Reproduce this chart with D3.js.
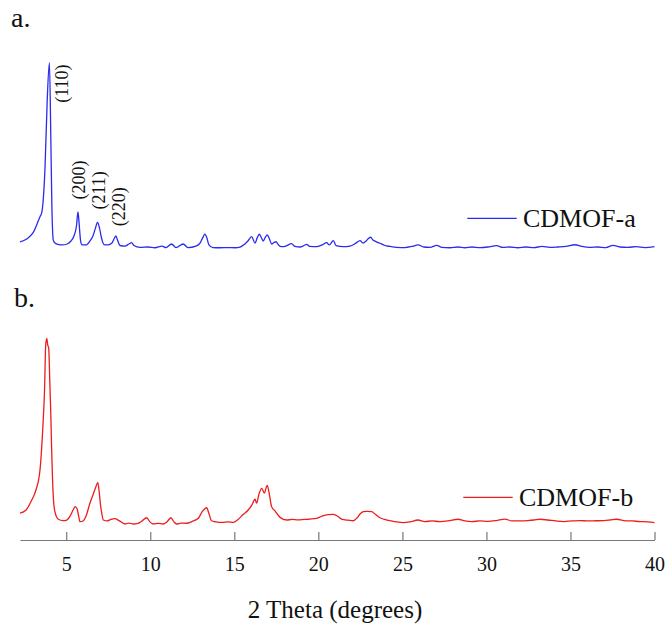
<!DOCTYPE html>
<html>
<head>
<meta charset="utf-8">
<script src="https://cdn.jsdelivr.net/npm/d3@7"></script>
<style>
  html, body { margin: 0; padding: 0; background: #fff; }
  svg { display: block; }
  text { font-family: "Liberation Serif", "Times New Roman", serif; fill: #111; }
</style>
</head>
<body>
<svg id="chart" width="667" height="624"></svg>
<script>
// ---- Data (2 theta in degrees, intensity in arbitrary units, max = 1000) ----
const thetaA = [2.25,2.65,3.02,3.44,3.54,3.74,3.87,4.0,4.08,4.14,4.23,4.33,4.51,4.75,5.05,5.28,5.46,5.61,5.7,5.76,5.85,5.94,6.18,6.41,6.59,6.74,6.86,6.98,7.1,7.25,7.49,7.72,7.87,7.96,8.05,8.2,8.5,8.73,8.89,9.03,9.39,9.86,10.28,10.7,10.93,11.27,11.53,11.96,12.24,12.72,12.96,13.14,13.25,13.37,13.49,13.73,14.15,14.62,15.04,15.34,15.63,15.81,16.03,16.23,16.38,16.49,16.62,16.72,16.85,16.96,17.09,17.22,17.36,17.48,17.63,17.82,18.07,18.41,18.61,18.91,19.15,19.31,19.5,19.9,20.22,20.5,20.65,20.89,21.05,21.48,21.88,22.24,22.48,22.66,22.84,22.98,23.11,23.25,23.43,23.67,23.96,24.26,24.66,25.15,25.57,25.93,26.28,26.64,27.04,27.35,27.83,28.31,28.72,29.14,29.61,30.09,30.61,30.98,31.4,31.87,32.35,32.83,33.3,33.78,34.25,34.73,35.27,35.68,36.16,36.63,37.11,37.53,37.94,38.42,38.9,39.43,40.0];
const intensityA = [43,59,91,178,198,443,801,1000,625,267,53,37,30,27,32,48,75,128,203,150,53,27,27,48,75,117,147,117,64,29,27,37,64,75,53,24,21,32,39,24,14,16,12,21,13,32,13,32,13,21,37,69,85,64,27,13,12,13,12,16,32,48,71,37,69,84,64,48,69,80,59,32,40,44,27,18,21,34,19,16,24,30,19,18,27,39,27,50,24,18,21,37,50,37,48,61,68,53,45,36,24,19,14,13,19,27,16,14,25,14,12,16,12,16,13,16,23,14,16,12,16,13,19,14,16,19,28,19,14,16,13,25,16,14,18,13,18];

const thetaB = [2.25,2.61,2.95,3.2,3.44,3.6,3.71,3.78,3.84,3.9,3.96,4.02,4.08,4.15,4.23,4.33,4.53,4.81,5.03,5.23,5.41,5.53,5.65,5.74,5.82,6.0,6.18,6.41,6.59,6.74,6.88,6.95,7.04,7.1,7.21,7.43,7.66,7.9,8.14,8.5,8.74,8.99,9.27,9.51,9.79,9.98,10.18,10.46,10.77,10.99,11.23,11.41,11.57,11.82,12.17,12.48,12.86,13.08,13.23,13.36,13.46,13.65,13.91,14.27,14.62,14.94,15.22,15.52,15.83,16.05,16.23,16.33,16.47,16.63,16.79,16.89,16.96,17.06,17.22,17.42,17.72,18.12,18.43,18.79,19.15,19.5,19.9,20.22,20.57,20.89,21.17,21.41,21.77,22.08,22.3,22.48,22.68,22.9,23.18,23.37,23.67,24.08,24.56,25.05,25.45,25.93,26.34,26.76,27.23,27.71,28.32,28.72,29.14,29.61,30.09,30.57,31.1,31.52,31.99,32.47,32.83,33.18,33.66,34.13,34.61,35.09,35.56,36.04,36.52,36.99,37.35,37.75,38.18,38.66,39.14,39.61,40.0];
const intensityB = [73,90,143,196,302,514,726,965,1000,965,947,779,604,355,161,80,41,34,37,58,90,108,95,58,28,32,58,126,170,207,235,196,117,80,37,32,40,44,34,16,21,16,19,32,49,27,16,19,16,27,49,27,16,21,20,29,46,80,95,102,80,33,27,24,27,25,40,66,90,117,147,126,175,205,179,207,221,186,108,85,51,37,40,38,40,42,46,58,66,67,56,40,36,33,48,69,81,83,81,69,49,37,29,23,27,37,29,32,29,32,41,32,29,32,30,34,42,32,32,34,37,41,37,32,29,32,34,32,33,34,37,41,34,32,29,27,23];

const xTicks = [5, 10, 15, 20, 25, 30, 35, 40];
const peakLabels = ["(110)", "(200)", "(211)", "(220)"];
const seriesNames = ["CDMOF-a", "CDMOF-b"];
const panelLabels = ["a.", "b."];
const xTitle = "2 Theta (degrees)";

// ---- Layout ----
const svg = d3.select("#chart");
const x = d3.scaleLinear().domain([2.25, 40]).range([20, 654.5]);
const yA = d3.scaleLinear().domain([0, 1000]).range([250, 62.7]);
const yB = d3.scaleLinear().domain([0, 1000]).range([527, 338.3]);

const blue = "#2b2bee";
const red = "#ee1c1c";

function drawSeries(thetas, vals, yScale, color) {
  const pts = thetas.map((t, i) => [t, vals[i]]);
  const line = d3.line().x(d => x(d[0])).y(d => yScale(d[1])).curve(d3.curveMonotoneX);
  svg.append("path").datum(pts)
    .attr("d", line)
    .attr("fill", "none")
    .attr("stroke", color)
    .attr("stroke-width", 1.3)
    .attr("stroke-linejoin", "round");
}
drawSeries(thetaA, intensityA, yA, blue);
drawSeries(thetaB, intensityB, yB, red);

// Panel labels
svg.append("text").attr("x", 11).attr("y", 27).attr("font-size", 28).text(panelLabels[0]);
svg.append("text").attr("x", 14).attr("y", 307).attr("font-size", 28).text(panelLabels[1]);

// Peak (hkl) labels, rotated, centred at given positions
const peakPos = [[62.5, 83.7], [78.8, 180], [98.8, 190.3], [119.2, 206.7]];
peakLabels.forEach((lab, i) => {
  const [px, py] = peakPos[i];
  svg.append("text")
    .attr("transform", `translate(${px},${py}) rotate(-90)`)
    .attr("text-anchor", "middle")
    .attr("dy", "0.33em")
    .attr("font-size", 18)
    .text(lab);
});

// Legends
function legend(x1, x2, ly, tx, tb, color, name) {
  svg.append("line").attr("x1", x1).attr("x2", x2).attr("y1", ly).attr("y2", ly)
    .attr("stroke", color).attr("stroke-width", 1.3);
  svg.append("text").attr("x", tx).attr("y", tb).attr("font-size", 26).text(name);
}
legend(467.3, 516.7, 218.3, 523, 226.7, blue, seriesNames[0]);
legend(463.3, 512.7, 497.3, 519, 506, red, seriesNames[1]);

// X axis
const axisG = svg.append("g").attr("transform", "translate(0,540)");
axisG.call(d3.axisBottom(x).tickValues(xTicks).tickSizeInner(-8).tickSizeOuter(0).tickPadding(17)
  .tickFormat(d3.format("d")));
axisG.select(".domain").attr("stroke", "#777").attr("stroke-width", 1.2);
axisG.selectAll(".tick line").attr("stroke", "#777").attr("stroke-width", 1.2);
axisG.selectAll(".tick text")
  .attr("font-family", "'Liberation Serif','Times New Roman',serif")
  .attr("font-size", 20).attr("fill", "#111");

svg.append("text").attr("x", 335).attr("y", 618).attr("text-anchor", "middle")
  .attr("font-size", 25).text(xTitle);
</script>
</body>
</html>
